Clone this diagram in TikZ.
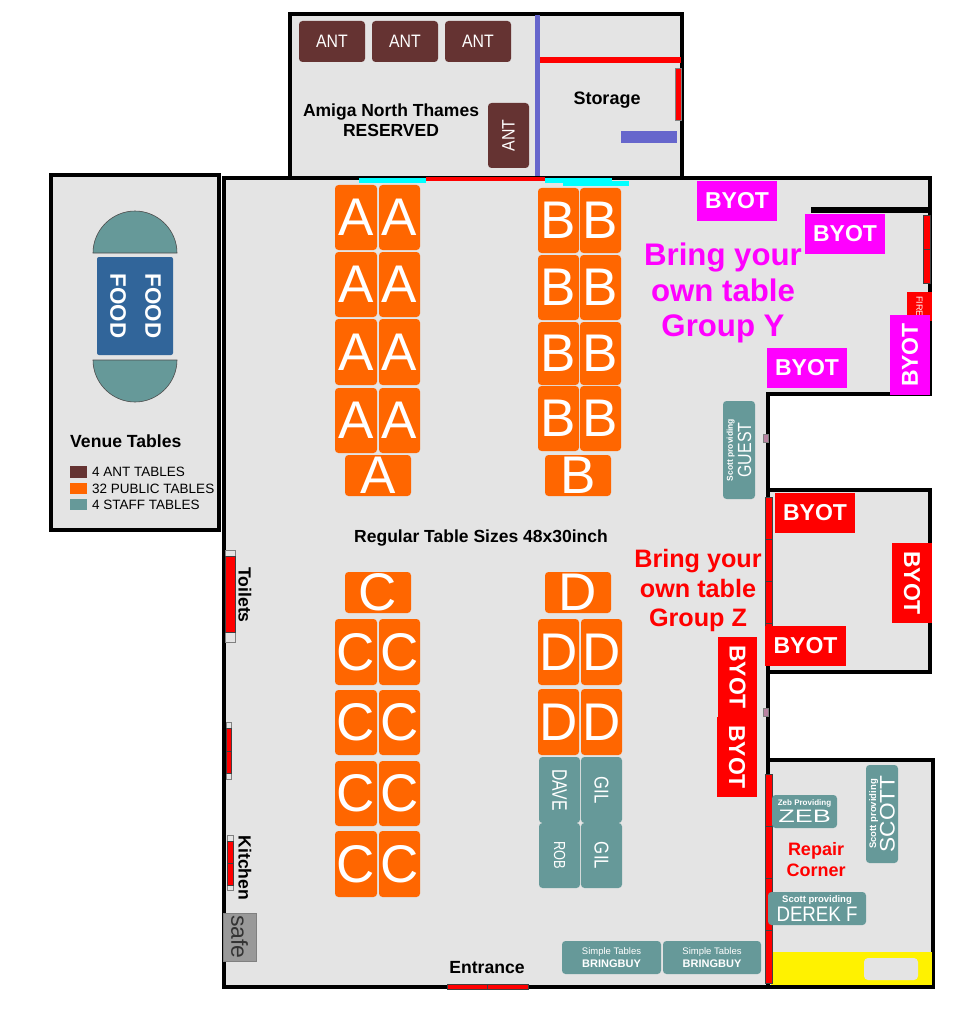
\documentclass[tikz,border=0pt]{standalone}
\usepackage{fontspec}
\setmainfont{Liberation Sans}
\definecolor{floor}{HTML}{E4E4E4}
\definecolor{ant}{HTML}{653332}
\definecolor{pub}{HTML}{FF6600}
\definecolor{staff}{HTML}{669999}
\definecolor{food}{HTML}{31659A}
\definecolor{pwall}{HTML}{6666CC}
\definecolor{magbyot}{HTML}{FF00FF}
\definecolor{greysafe}{HTML}{999999}
\definecolor{cyanstrip}{HTML}{00FFFF}
\newcommand{\fs}[1]{\fontsize{#1}{#1}\selectfont}
\newcommand{\sx}[2]{\scalebox{#1}[1]{#2}}
% \tb{name}{x1}{y1}{x2}{y2}{box style}{text options}{text}
\newcommand{\tb}[8]{%
  \path[#6] (#2,#3) rectangle (#4,#5);
  \pgfmathsetmacro{\cxx}{(#2+#4)/2}\pgfmathsetmacro{\cyy}{(#3+#5)/2}
  \node (#1) [lbl,#7] at (\cxx,\cyy) {#8};}
\tikzset{
  lbl/.style={inner sep=0pt,text=white},
  wallline/.style={draw=black,line width=3.2pt,line join=miter},
  pubt/.style={fill=pub,rounded corners=3.5pt},
  antt/.style={fill=ant,rounded corners=3.5pt},
  stafft/.style={fill=staff,rounded corners=3.5pt},
  mbyot/.style={fill=magbyot},
  rbyot/.style={fill=red},
  door/.style={fill=red,draw=black!75,line width=.8pt},
  doorcap/.style={fill=floor,draw=black!50,line width=.6pt},
  big/.style={font=\fs{53}},
  byt/.style={font=\bfseries\fs{23}},
  head/.style={inner sep=0pt,text=black,font=\bfseries\fs{17.5},align=center},
  tiny/.style={fill=black!50!magenta!60!white,draw=black!50,line width=.3pt},
}
\begin{document}
\begin{tikzpicture}[x=1pt,y=-1pt]
\useasboundingbox (0,0) rectangle (976,1024);
% rooms
\draw[wallline,fill=floor] (290,14) rectangle (682,178);
\draw[wallline,fill=floor] (51,175) rectangle (219,530);
\draw[wallline,fill=floor] (224,178) -- (930,178) -- (930,394) -- (768,394) -- (768,987) -- (224,987) -- cycle;
\draw[wallline,fill=floor] (768,490) rectangle (930,672);
\draw[wallline,fill=floor] (768,760) rectangle (933,987);
% top room
\fill[pwall] (535,15) rectangle (540,176);
\fill[red] (540,57) rectangle (681,63);
\path[door,draw=black!50] (675,68) rectangle (681,120);
\fill[pwall] (621,131) rectangle (677,143);
\fill[cyanstrip] (359,178) rectangle (426,183);
\fill[cyanstrip] (545,178) rectangle (612,183);
\fill[cyanstrip] (563,181) rectangle (629,186);
\fill[red] (426,177) rectangle (545,181);
\tb{ant1}{299}{21}{365}{62}{antt}{font=\fs{18}}{\sx{.88}{ANT}}
\tb{ant2}{372}{21}{438}{62}{antt}{font=\fs{18}}{\sx{.88}{ANT}}
\tb{ant3}{445}{21}{511}{62}{antt}{font=\fs{18}}{\sx{.88}{ANT}}
\tb{ant4}{488}{103}{529}{168}{antt}{font=\fs{18},rotate=90}{\sx{.88}{ANT}}
\node (amiga) [head] at (391,120) {Amiga North Thames\\[3pt]RESERVED};
\node (storage) [head,font=\bfseries\fs{18}] at (607,100) {Storage};
% venue tables
\path[fill=staff,draw=black!70,line width=.6pt] (93,253) .. controls (93,230) and (112,211) .. (135,211) .. controls (158,211) and (177,230) .. (177,253) -- cycle;
\path[fill=staff,draw=black!70,line width=.6pt] (93,360) .. controls (93,383) and (112,402) .. (135,402) .. controls (158,402) and (177,383) .. (177,360) -- cycle;
\path[fill=food,rounded corners=2pt] (97,257) rectangle (173,355);
\node (food1) [lbl,font=\bfseries\fs{22.4},rotate=-90] at (118,306) {FOOD};
\node (food2) [lbl,font=\bfseries\fs{22.4},rotate=-90] at (153,306) {FOOD};
\node (venue) [head,font=\bfseries\fs{17.6},anchor=west] at (70,441) {Venue Tables};
\fill[ant] (70,466) rectangle (87,478);
\fill[pub] (70,483) rectangle (87,494);
\fill[staff] (70,499) rectangle (87,510);
\node (l1) [head,font=\fs{13.5},anchor=west] at (92,472) {4 ANT TABLES};
\node (l2) [head,font=\fs{13.5},anchor=west] at (92,488.5) {32 PUBLIC TABLES};
\node (l3) [head,font=\fs{13.5},anchor=west] at (92,505) {4 STAFF TABLES};
% A
\tb{a1}{335}{185}{377}{250}{pubt}{big}{A}\tb{a2}{379}{185}{420}{250}{pubt}{big}{A}
\tb{a3}{335}{252}{377}{317}{pubt}{big}{A}\tb{a4}{379}{252}{420}{317}{pubt}{big}{A}
\tb{a5}{335}{319}{377}{385}{pubt}{big}{A}\tb{a6}{379}{319}{420}{385}{pubt}{big}{A}
\tb{a7}{335}{388}{377}{453}{pubt}{big}{A}\tb{a8}{379}{388}{420}{453}{pubt}{big}{A}
\tb{a9}{345}{455}{411}{496}{pubt}{big}{A}
% B
\tb{b1}{538}{188}{579}{253}{pubt}{big}{B}\tb{b2}{580}{188}{621}{253}{pubt}{big}{B}
\tb{b3}{538}{255}{579}{320}{pubt}{big}{B}\tb{b4}{580}{255}{621}{320}{pubt}{big}{B}
\tb{b5}{538}{322}{579}{385}{pubt}{big}{B}\tb{b6}{580}{322}{621}{385}{pubt}{big}{B}
\tb{b7}{538}{386}{579}{451}{pubt}{big}{B}\tb{b8}{580}{386}{621}{451}{pubt}{big}{B}
\tb{b9}{545}{455}{611}{496}{pubt}{big}{B}
% C
\tb{c9}{345}{572}{411}{613}{pubt}{big}{C}
\tb{c1}{335}{619}{377}{685}{pubt}{big}{C}\tb{c2}{379}{619}{420}{685}{pubt}{big}{C}
\tb{c3}{335}{690}{377}{755}{pubt}{big}{C}\tb{c4}{379}{690}{420}{755}{pubt}{big}{C}
\tb{c5}{335}{761}{377}{826}{pubt}{big}{C}\tb{c6}{379}{761}{420}{826}{pubt}{big}{C}
\tb{c7}{335}{831}{377}{897}{pubt}{big}{C}\tb{c8}{379}{831}{420}{897}{pubt}{big}{C}
% D
\tb{d9}{545}{572}{611}{613}{pubt}{big}{D}
\tb{d1}{538}{619}{579}{685}{pubt}{big}{D}\tb{d2}{581}{619}{622}{685}{pubt}{big}{D}
\tb{d3}{538}{689}{579}{755}{pubt}{big}{D}\tb{d4}{581}{689}{622}{755}{pubt}{big}{D}
% staff
\tb{dave}{539}{757}{580}{823}{stafft}{font=\fs{21},rotate=-90}{\sx{.75}{DAVE}}
\tb{gil1}{581}{757}{622}{823}{stafft}{font=\fs{20},rotate=-90}{\sx{.84}{GIL}}
\tb{rob}{539}{823}{580}{888}{stafft}{font=\fs{16},rotate=-90}{\sx{.8}{ROB}}
\tb{gil2}{581}{823}{622}{888}{stafft}{font=\fs{20},rotate=-90}{\sx{.84}{GIL}}
\tb{st1}{562}{941}{661}{974}{stafft}{font=\fs{9.5},align=center}{Simple Tables\\[3pt]{\bfseries\fs{11}BRINGBUY}}
\tb{st2}{663}{941}{761}{974}{stafft}{font=\fs{9.5},align=center}{Simple Tables\\[3pt]{\bfseries\fs{11}BRINGBUY}}
\tb{guest}{723}{401}{755}{499}{stafft}{rotate=90,align=center,font=\bfseries\fs{8.5}}{Scott providing\\[2pt]{\mdseries\fs{19}\sx{.84}{GUEST}}}
% labels main
\node (regular) [head,font=\bfseries\fs{17.5}] at (481,538.5) {Regular Table Sizes 48x30inch};
\node (groupy) [head,font=\bfseries\fs{31.2},text=magbyot] at (723,293) {Bring your\\[4pt]own table\\[4pt]Group Y};
\node (groupz) [head,font=\bfseries\fs{25.2},text=red] at (698,590.5) {Bring your\\[4pt]own table\\[4pt]Group Z};
\node (entr) [head,font=\bfseries\fs{17.6}] at (487,968) {Entrance};
% north-east corner
\fill[black] (811,207) rectangle (930,213);
\path[door] (923,215) rectangle (930,249);
\path[door] (923,249) rectangle (930,283);
\tb{fire}{907}{292}{932}{321}{fill=red}{font=\fs{9},rotate=-90}{FIRE}
\tb{by1}{697}{181}{777}{221}{mbyot}{byt}{BYOT}
\tb{by2}{805}{214}{885}{254}{mbyot}{byt}{BYOT}
\tb{by3}{767}{348}{847}{388}{mbyot}{byt}{BYOT}
\tb{by4}{890}{315}{930}{395}{mbyot}{byt,rotate=90}{BYOT}
% east side
\path[tiny] (763,434) rectangle (768,442);
\path[tiny] (763,708) rectangle (768,716);
\path[door] (765,497) rectangle (772,539);
\path[door] (765,539) rectangle (772,581);
\path[door] (765,581) rectangle (772,623);
\path[door] (765,623) rectangle (772,665);
\tb{bz1}{775}{493}{855}{533}{rbyot}{byt}{BYOT}
\tb{bz2}{765}{626}{846}{666}{rbyot}{byt}{BYOT}
\tb{bz3}{892}{543}{932}{623}{rbyot}{byt,rotate=-90}{BYOT}
\tb{bz4}{718}{637}{757}{717}{rbyot}{byt,rotate=-90}{BYOT}
\tb{bz5}{717}{717}{757}{797}{rbyot}{byt,rotate=-90}{BYOT}
% repair
\fill[yellow] (771,952) rectangle (932,985);
\path[fill=floor,rounded corners=4pt] (864,958) rectangle (918,980);
\path[door] (765,774) rectangle (772,826);
\path[door] (765,826) rectangle (772,878);
\path[door] (765,878) rectangle (772,930);
\path[door] (765,930) rectangle (772,983);
\tb{zeb}{772}{795}{837}{828}{stafft}{align=center,font=\bfseries\fs{8}}{Zeb Providing\\[2pt]{\mdseries\fs{18}\sx{1.5}{ZEB}}}
\tb{derek}{768}{892}{866}{925}{stafft}{align=center,font=\bfseries\fs{9.5}}{Scott providing\\[1.5pt]{\mdseries\fs{21}\sx{.89}{DEREK F}}}
\tb{scott}{866}{765}{898}{863}{stafft}{rotate=90,align=center,font=\bfseries\fs{9.5}}{Scott providing\\[1pt]{\mdseries\fs{21}\sx{1.08}{SCOTT}}}
\node (repair) [head,font=\bfseries\fs{18},text=red] at (816,859.5) {Repair\\[3pt]Corner};
% west side
\path[doorcap] (225,550) rectangle (235,642);
\path[door] (225,556) rectangle (235,632);
\path[doorcap] (226,722) rectangle (231,779);
\path[door] (226,728) rectangle (231,751);
\path[door] (226,751) rectangle (231,773);
\path[doorcap] (227,835) rectangle (233,890);
\path[door] (227,841) rectangle (233,863);
\path[door] (227,863) rectangle (233,885);
\node (toilets) [head,font=\bfseries\fs{17.6},rotate=-90] at (245,595) {Toilets};
\node (kitchen) [head,font=\bfseries\fs{17.6},rotate=-90] at (245,868) {Kitchen};
\tb{safe}{223}{913}{256}{961}{fill=greysafe,draw=black!50,line width=.6pt}{rotate=-90,text=black!80,font=\fs{23}}{safe}
% entrance door
\path[door] (447,984) rectangle (487,989);
\path[door] (487,984) rectangle (528,989);
\end{tikzpicture}
\end{document}
